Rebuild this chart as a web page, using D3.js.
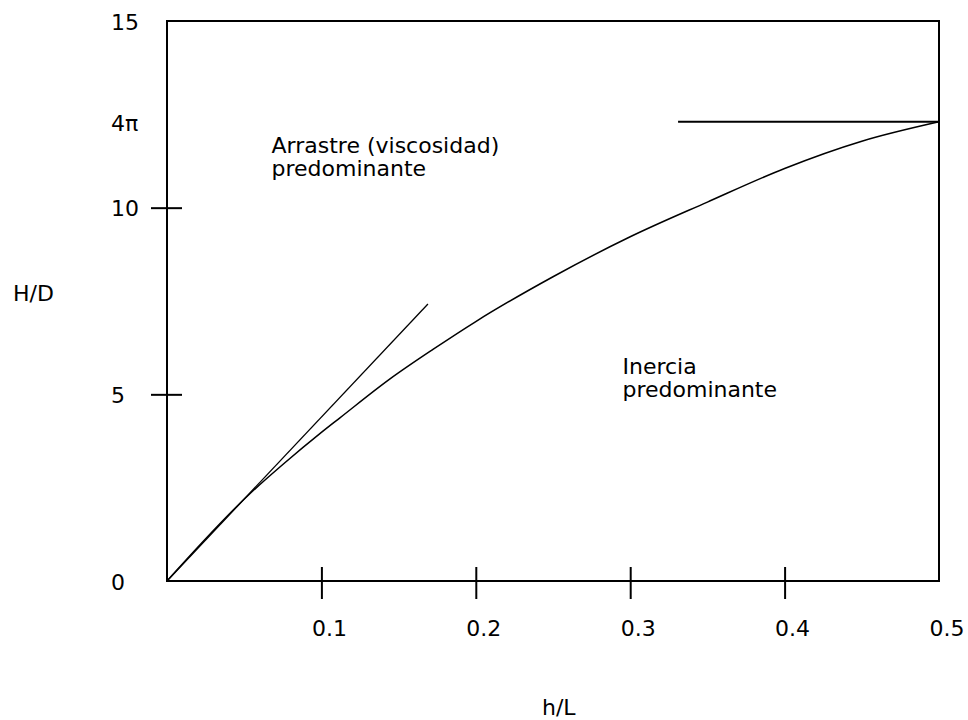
<!DOCTYPE html>
<html>
<head>
<meta charset="utf-8">
<script src="https://cdn.jsdelivr.net/npm/d3@7"></script>
<style>
  html, body { margin: 0; padding: 0; background: #fff; }
  svg { display: block; }
  text { font-family: "DejaVu Sans", sans-serif; font-size: 22px; fill: #000; }
</style>
</head>
<body>
<div id="chart"></div>
<script>
// Data
const curveHL = [0, 0.054, 0.075, 0.1, 0.112, 0.144, 0.1725, 0.2, 0.25, 0.3, 0.35, 0.4, 0.45, 0.5]
const curveHD = [0, 2.35, 3.12, 3.98, 4.37, 5.4, 6.21, 6.95, 8.15, 9.22, 10.15, 11.05, 11.78, 12.3]

// Recta de arrastre (tangente en el origen)
const dragHL = [0, 0.169]
const dragHD = [0, 7.42]

// Asintota 4π
const limitHL = [0.331, 0.5]
const limitHD = [12.3, 12.3]

const xTicks = [0.1, 0.2, 0.3, 0.4]
const xTickLabels = ['0.1', '0.2', '0.3', '0.4', '0.5']
const xLabelValues = [0.1, 0.2, 0.3, 0.4, 0.5]
const yTicks = [5, 10]
const yLabelValues = [0, 5, 10, 12.3, 15]
const yTickLabels = ['0', '5', '10', '4π', '15']

function draw() {
  // Dimensions
  let dimensions = {
    width: 968,
    height: 720,
    left: 167,
    right: 939,
    top: 21,
    bottom: 581,
  }

  const svg = d3.select('#chart')
    .append('svg')
    .attr('width', dimensions.width)
    .attr('height', dimensions.height)

  // Scales
  const xScale = d3.scaleLinear()
    .domain([0, 0.5])
    .range([dimensions.left, dimensions.right])

  const yScale = d3.scaleLinear()
    .domain([0, 15])
    .range([dimensions.bottom, dimensions.top])

  // Marco
  svg.append('rect')
    .attr('x', xScale(0))
    .attr('y', yScale(15))
    .attr('width', xScale(0.5) - xScale(0))
    .attr('height', yScale(0) - yScale(15))
    .attr('fill', 'none')
    .attr('stroke', '#000')
    .attr('stroke-width', 2)

  // AXIS (marcas que cruzan el eje)
  const xAxis = d3.axisBottom(xScale)
    .tickValues(xTicks)
    .tickSize(16)
    .tickSizeOuter(0)
    .tickFormat('')

  svg.append('g')
    .attr('transform', `translate(0, ${dimensions.bottom})`)
    .call(xAxis)
    .call(g => g.select('.domain').remove())
    .call(g => g.selectAll('.tick line')
      .attr('y1', -14)
      .attr('y2', 18)
      .attr('stroke', '#000')
      .attr('stroke-width', 2))

  const yAxis = d3.axisLeft(yScale)
    .tickValues(yTicks)
    .tickSize(16)
    .tickSizeOuter(0)
    .tickFormat('')

  svg.append('g')
    .attr('transform', `translate(${dimensions.left}, 0)`)
    .call(yAxis)
    .call(g => g.select('.domain').remove())
    .call(g => g.selectAll('.tick line')
      .attr('x1', 15)
      .attr('x2', -16)
      .attr('stroke', '#000')
      .attr('stroke-width', 2))

  // Etiquetas de los ejes
  svg.append('g')
    .selectAll('text')
    .data(xLabelValues)
    .join('text')
    .attr('x', d => xScale(d) + 8)
    .attr('y', dimensions.bottom + 55)
    .attr('text-anchor', 'middle')
    .text((d, i) => xTickLabels[i])

  svg.append('g')
    .selectAll('text')
    .data(yLabelValues)
    .join('text')
    .attr('x', 111)
    .attr('y', d => yScale(d))
    .attr('dy', '0.4em')
    .text((d, i) => yTickLabels[i])

  svg.append('text')
    .attr('x', 13)
    .attr('y', 301)
    .text('H/D')

  svg.append('text')
    .attr('x', 542)
    .attr('y', 715)
    .text('h/L')

  // Curvas
  const line = d3.line()
    .x(d => xScale(d[0]))
    .y(d => yScale(d[1]))

  svg.append('path')
    .datum(d3.zip(curveHL, curveHD))
    .attr('d', line.curve(d3.curveMonotoneX))
    .attr('fill', 'none')
    .attr('stroke', '#000')
    .attr('stroke-width', 1.5)

  svg.append('path')
    .datum(d3.zip(dragHL, dragHD))
    .attr('d', line.curve(d3.curveLinear))
    .attr('fill', 'none')
    .attr('stroke', '#000')
    .attr('stroke-width', 1.3)

  svg.append('path')
    .datum(d3.zip(limitHL, limitHD))
    .attr('d', line)
    .attr('fill', 'none')
    .attr('stroke', '#000')
    .attr('stroke-width', 2)

  // Anotaciones
  const notes = [
    { x: 0.0677, y: 11.47, lines: ['Arrastre (viscosidad)', 'predominante'] },
    { x: 0.295, y: 5.55, lines: ['Inercia', 'predominante'] },
  ]

  svg.append('g')
    .selectAll('text')
    .data(notes)
    .join('text')
    .attr('x', d => xScale(d.x))
    .attr('y', d => yScale(d.y))
    .selectAll('tspan')
    .data(d => d.lines.map(l => ({ l, x: xScale(d.x) })))
    .join('tspan')
    .attr('x', d => d.x)
    .attr('dy', (d, i) => i === 0 ? 0 : 23)
    .text(d => d.l)
}

draw()
</script>
</body>
</html>
